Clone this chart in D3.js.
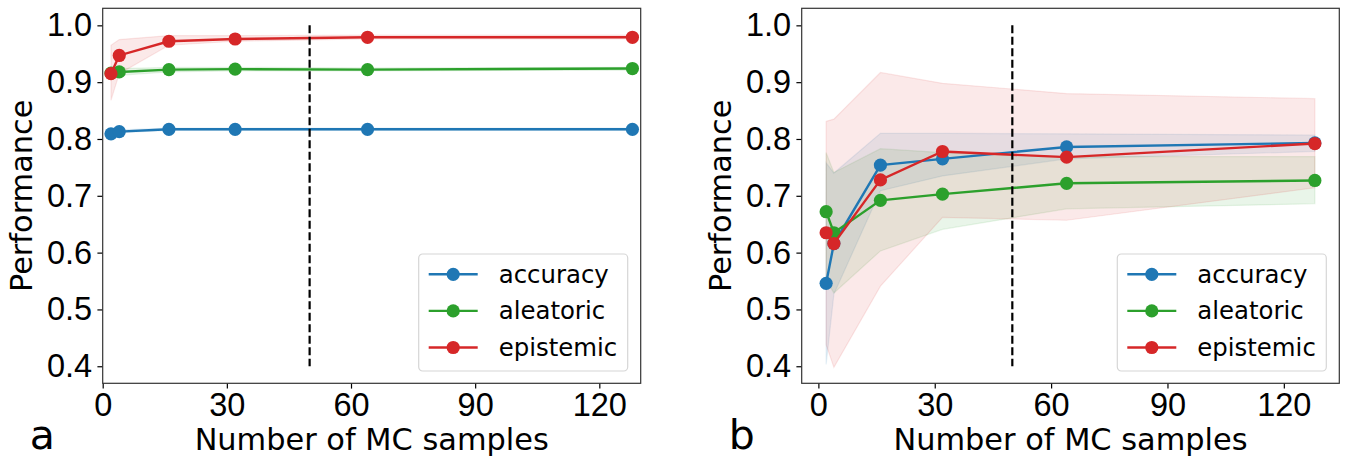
<!DOCTYPE html>
<html>
<head>
<meta charset="utf-8">
<script src="https://cdn.jsdelivr.net/npm/d3@7"></script>
<style>
  body { margin: 0; background: #fff; }
  svg { display: block; font-family: "DejaVu Sans", sans-serif; }
  .tick text { font-size: 32.5px; fill: #000; }
  .tick line { stroke: #000; stroke-width: 1.2; }
  .domain { display: none; }
</style>
</head>
<body>
<svg id="chart" width="1346" height="460"></svg>
<script>
// MC samples on the x axis
var mcSamples = [2, 4, 16, 32, 64, 128];
var seriesNames = ["accuracy", "aleatoric", "epistemic"];
var xTicks = [0, 30, 60, 90, 120];
var yTicks = [0.4, 0.5, 0.6, 0.7, 0.8, 0.9, 1.0];

// panel a
var aAccuracy    = [0.809, 0.813, 0.817, 0.817, 0.817, 0.817];
var aAccuracyLo  = [0.806, 0.811, 0.815, 0.815, 0.815, 0.815];
var aAccuracyHi  = [0.812, 0.816, 0.819, 0.819, 0.819, 0.819];
var aAleatoric   = [0.916, 0.918, 0.922, 0.923, 0.922, 0.924];
var aAleatoricLo = [0.909, 0.912, 0.918, 0.920, 0.920, 0.921];
var aAleatoricHi = [0.922, 0.924, 0.926, 0.926, 0.925, 0.926];
var aEpistemic   = [0.915, 0.947, 0.972, 0.976, 0.979, 0.979];
var aEpistemicLo = [0.868, 0.915, 0.965, 0.972, 0.976, 0.976];
var aEpistemicHi = [0.965, 0.975, 0.982, 0.982, 0.983, 0.983];

// panel b
var bAccuracy    = [0.546, 0.616, 0.754, 0.765, 0.786, 0.793];
var bAccuracyLo  = [0.403, 0.527, 0.709, 0.735, 0.765, 0.778];
var bAccuracyHi  = [0.758, 0.740, 0.810, 0.810, 0.809, 0.807];
var bAleatoric   = [0.672, 0.635, 0.692, 0.703, 0.722, 0.727];
var bAleatoricLo = [0.552, 0.529, 0.603, 0.641, 0.677, 0.686];
var bAleatoricHi = [0.776, 0.741, 0.783, 0.776, 0.769, 0.769];
var bEpistemic   = [0.635, 0.616, 0.728, 0.778, 0.768, 0.792];
var bEpistemicLo = [0.438, 0.398, 0.541, 0.662, 0.657, 0.714];
var bEpistemicHi = [0.831, 0.835, 0.917, 0.898, 0.880, 0.871];

var colors = ["#1f77b4", "#2ca02c", "#d62728"];
var svg = d3.select("#chart");

var panels = [
  { letter: "a", xDomain: [0, 130], left: 102.7, right: 640.7,
    mean: [aAccuracy, aAleatoric, aEpistemic],
    lo: [aAccuracyLo, aAleatoricLo, aEpistemicLo],
    hi: [aAccuracyHi, aAleatoricHi, aEpistemicHi] },
  { letter: "b", xDomain: [-4.3, 134.3], left: 801.7, right: 1339.3,
    mean: [bAccuracy, bAleatoric, bEpistemic],
    lo: [bAccuracyLo, bAleatoricLo, bEpistemicLo],
    hi: [bAccuracyHi, bAleatoricHi, bEpistemicHi] }
];

var plotTop = 8.3, plotBottom = 383.3;

panels.forEach(function(p) {
  var x = d3.scaleLinear().domain(p.xDomain).range([p.left, p.right]);
  var y = d3.scaleLinear().domain([0.37, 1.03]).range([plotBottom, plotTop]);
  var g = svg.append("g");

  // bands
  p.mean.forEach(function(s, i) {
    var area = d3.area()
      .x(function(d, j) { return x(mcSamples[j]); })
      .y0(function(d, j) { return y(p.lo[i][j]); })
      .y1(function(d, j) { return y(p.hi[i][j]); });
    g.append("path").attr("d", area(s))
      .attr("fill", colors[i]).attr("fill-opacity", 0.1)
      .attr("stroke", colors[i]).attr("stroke-opacity", 0.1).attr("stroke-width", 1.2);
  });

  // lines + markers
  p.mean.forEach(function(s, i) {
    var line = d3.line().x(function(d, j) { return x(mcSamples[j]); }).y(function(d) { return y(d); });
    g.append("path").attr("d", line(s)).attr("fill", "none")
      .attr("stroke", colors[i]).attr("stroke-width", 2.4);
    g.selectAll(null).data(s).enter().append("circle")
      .attr("cx", function(d, j) { return x(mcSamples[j]); })
      .attr("cy", function(d) { return y(d); })
      .attr("r", 6.6).attr("fill", colors[i]);
  });

  // vertical dashed marker at 50 samples
  g.append("line")
    .attr("x1", x(50)).attr("x2", x(50)).attr("y1", y(1.0)).attr("y2", y(0.4))
    .attr("stroke", "#000").attr("stroke-width", 2.2).attr("stroke-dasharray", "8,3.5");

  // axes
  g.append("g").attr("transform", "translate(0," + plotBottom + ")")
    .call(d3.axisBottom(x).tickValues(xTicks).tickFormat(d3.format("d")).tickSize(5.3).tickPadding(4.5));
  g.append("g").attr("transform", "translate(" + p.left + ",0)")
    .call(d3.axisLeft(y).tickValues(yTicks).tickFormat(d3.format(".1f")).tickSize(5.3).tickPadding(5.3));

  g.append("rect").attr("x", p.left).attr("y", plotTop)
    .attr("width", p.right - p.left).attr("height", plotBottom - plotTop)
    .attr("fill", "none").attr("stroke", "#333").attr("stroke-width", 1.2);

  // labels
  g.append("text").attr("x", (p.left + p.right) / 2).attr("y", 450)
    .attr("text-anchor", "middle").attr("font-size", 30.4).text("Number of MC samples");
  g.append("text")
    .attr("transform", "translate(" + (p.left - 81) + "," + ((plotTop + plotBottom) / 2) + ") rotate(-90)")
    .attr("text-anchor", "middle").attr("dy", "0.35em").attr("font-size", 30.4).text("Performance");
  g.append("text").attr("x", p.left - 73).attr("y", 449)
    .attr("font-size", 41).text(p.letter);

  // legend
  var lx = p.right - 13 - 209, ly = 254;
  var leg = g.append("g").attr("transform", "translate(" + lx + "," + ly + ")");
  leg.append("rect").attr("width", 209).attr("height", 117).attr("rx", 4)
    .attr("fill", "#fff").attr("fill-opacity", 0.8).attr("stroke", "#d6d6d6").attr("stroke-width", 1.2);
  seriesNames.forEach(function(name, i) {
    var ry = 20.3 + i * 36.6;
    leg.append("line").attr("x1", 10).attr("x2", 59).attr("y1", ry).attr("y2", ry)
      .attr("stroke", colors[i]).attr("stroke-width", 2.4);
    leg.append("circle").attr("cx", 34.5).attr("cy", ry).attr("r", 6.6).attr("fill", colors[i]);
    leg.append("text").attr("x", 80).attr("y", ry).attr("dy", "0.35em")
      .attr("font-size", 24.4).text(name);
  });
});
</script>
</body>
</html>
